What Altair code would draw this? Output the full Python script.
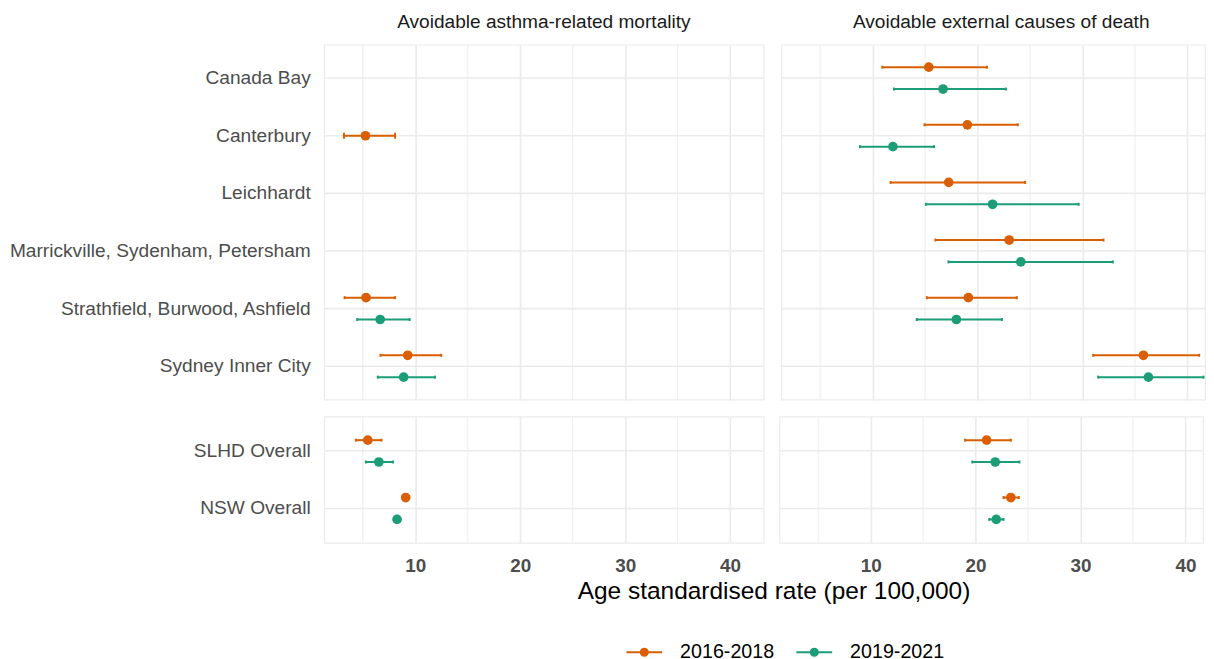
import altair as alt
import pandas as pd

# ---------------- data ----------------
lga_order = ["Canada Bay", "Canterbury", "Leichhardt",
             "Marrickville, Sydenham, Petersham",
             "Strathfield, Burwood, Ashfield", "Sydney Inner City"]
overall_order = ["SLHD Overall", "NSW Overall"]
causes = ["Avoidable asthma-related mortality", "Avoidable external causes of death"]
periods = ["2016-2018", "2019-2021"]

area = ["Canterbury", "Strathfield, Burwood, Ashfield", "Strathfield, Burwood, Ashfield",
        "Sydney Inner City", "Sydney Inner City", "SLHD Overall", "SLHD Overall",
        "NSW Overall", "NSW Overall",
        "Canada Bay", "Canada Bay", "Canterbury", "Canterbury", "Leichhardt", "Leichhardt",
        "Marrickville, Sydenham, Petersham", "Marrickville, Sydenham, Petersham",
        "Strathfield, Burwood, Ashfield", "Strathfield, Burwood, Ashfield",
        "Sydney Inner City", "Sydney Inner City", "SLHD Overall", "SLHD Overall",
        "NSW Overall", "NSW Overall"]
cause = [causes[0]] * 9 + [causes[1]] * 16
period = ["2016-2018", "2016-2018", "2019-2021", "2016-2018", "2019-2021",
          "2016-2018", "2019-2021", "2016-2018", "2019-2021"] + \
         ["2016-2018", "2019-2021"] * 8
rate = [5.25, 5.3, 6.65, 9.27, 8.89, 5.47, 6.52, 9.08, 8.26,
        15.35, 16.71, 19.02, 11.93, 17.25, 21.43, 23.01, 24.12,
        19.12, 17.98, 35.8, 36.28, 21.05, 21.87, 23.36, 21.97]
lower = [3.2, 3.26, 4.46, 6.68, 6.42, 4.33, 5.28, 8.85, 8.05,
         10.92, 12.03, 14.94, 8.79, 11.71, 15.07, 15.98, 17.22,
         15.16, 14.2, 31.02, 31.49, 19.0, 19.69, 22.66, 21.3]
upper = [8.07, 8.07, 9.46, 12.47, 11.87, 6.77, 7.88, 9.32, 8.48,
         20.89, 22.7, 23.83, 15.85, 24.53, 29.63, 32.0, 32.89,
         23.74, 22.32, 41.12, 41.53, 23.36, 24.18, 24.12, 22.66]
major_ticks = [10, 20, 30, 40]
minor_grid = [5, 15, 25, 35]

df = pd.DataFrame({"area": area, "cause": cause, "period": period,
                   "rate": rate, "lower": lower, "upper": upper})
counts = df.groupby(["cause", "area"])["period"].transform("count")
df["slot"] = ["m" if c == 1 else ("a" if p == periods[0] else "b")
              for c, p in zip(counts, df["period"])]
minor_df = pd.DataFrame({"v": minor_grid})

# ---------------- style ----------------
FONT = "Liberation Sans"
GRID = "#EBEBEB"
colors = ["#D95F02", "#1B9E77"]
# legend key: a line with a dot (dot built from concentric strokes)
LEG_PATH = ("M-1,0L1,0"
            "M-0.2,0A0.2,0.2,0,1,0,0.2,0A0.2,0.2,0,1,0,-0.2,0"
            "M-0.1,0A0.1,0.1,0,1,0,0.1,0A0.1,0.1,0,1,0,-0.1,0"
            "M-0.03,0A0.03,0.03,0,1,0,0.03,0A0.03,0.03,0,1,0,-0.03,0")

X0 = 1.31
PX_PER_UNIT = 10.554
LEFT_W = 442
RIGHT_W = 426

color_scale = alt.Scale(domain=periods, range=colors)
legend = alt.Legend(title=None, orient="none", direction="horizontal",
                    legendX=303, legendY=592,
                    symbolType=LEG_PATH, symbolSize=1296, symbolStrokeWidth=2,
                    symbolFillColor="transparent",
                    labelFont=FONT, labelFontSize=19.8, labelColor="#000000",
                    labelOffset=17, columnPadding=18)


def panel(sub, domain, height, po, width, show_x, show_y, title=None, xtitle=None):
    xmax = X0 + width / PX_PER_UNIT
    xscale = alt.Scale(domain=[X0, xmax], nice=False, zero=False)
    ax = dict(values=major_ticks, labels=show_x, ticks=False, domain=False,
              grid=True, gridColor=GRID, gridWidth=1.6,
              labelFont=FONT, labelFontSize=19, labelFontWeight="bold",
              labelColor="#4D4D4D", labelPadding=14)
    if xtitle:
        ax.update(title=xtitle, titleFont=FONT, titleFontSize=24.6,
                  titleFontWeight="normal", titleColor="#000000",
                  titleX=452, titleY=56, titleAlign="center",
                  titleBaseline="alphabetic", titleAnchor="middle")
    else:
        ax.update(title=None)
    xaxis = alt.Axis(**ax)
    yaxis = alt.Axis(labels=show_y, ticks=False, domain=False, grid=True,
                     gridColor=GRID, gridWidth=1.6, bandPosition=0.5, title=None,
                     labelFont=FONT, labelFontSize=19.25, labelColor="#4D4D4D",
                     labelPadding=14, labelLimit=500)
    yenc = alt.Y("area:N", scale=alt.Scale(domain=domain, paddingInner=0,
                                           paddingOuter=po), axis=yaxis)
    yoff = alt.YOffset("slot:N", scale=alt.Scale(domain=["s0", "a", "m", "b", "s1"],
                                                 paddingInner=0, paddingOuter=0.136))
    minor = alt.Chart(minor_df).mark_rule(color=GRID, strokeWidth=0.9).encode(
        x=alt.X("v:Q", scale=xscale, axis=xaxis))
    base = alt.Chart(sub)
    bars = base.mark_rule(strokeWidth=2, opacity=1).encode(
        x=alt.X("lower:Q", scale=xscale, axis=xaxis), x2="upper:Q",
        y=yenc, yOffset=yoff,
        stroke=alt.Stroke("period:N", scale=color_scale, legend=legend))
    caps_lo = base.mark_tick(orient="vertical", thickness=2, opacity=1).encode(
        x=alt.X("lower:Q", scale=xscale, axis=xaxis), y=yenc, yOffset=yoff,
        size=alt.condition(alt.datum.slot == "m", alt.value(6), alt.value(3)),
        fill=alt.Fill("period:N", scale=color_scale, legend=None))
    caps_hi = base.mark_tick(orient="vertical", thickness=2, opacity=1).encode(
        x=alt.X("upper:Q", scale=xscale, axis=xaxis), y=yenc, yOffset=yoff,
        size=alt.condition(alt.datum.slot == "m", alt.value(6), alt.value(3)),
        fill=alt.Fill("period:N", scale=color_scale, legend=None))
    pts = base.mark_circle(size=95, opacity=1).encode(
        x=alt.X("rate:Q", scale=xscale, axis=xaxis), y=yenc, yOffset=yoff,
        fill=alt.Fill("period:N", scale=color_scale, legend=None))
    props = dict(width=width, height=height)
    if title is not None:
        props["title"] = title
    return alt.layer(minor, bars, caps_lo, caps_hi, pts).properties(**props)


def strip(text, dx=0):
    return alt.TitleParams(text, fontSize=19.2, font=FONT, fontWeight="normal",
                           color="#1A1A1A", anchor="middle", offset=12, dx=dx)


d_a = df[df.cause == causes[0]]
d_e = df[df.cause == causes[1]]

tl = panel(d_a[d_a.area.isin(lga_order)], lga_order, 357, 0.08, LEFT_W, False, True,
           strip(causes[0]))
tr = panel(d_e[d_e.area.isin(lga_order)], lga_order, 357, 0.08, RIGHT_W, False, False,
           strip(causes[1], dx=8))
bl = panel(d_a[d_a.area.isin(overall_order)], overall_order, 127, 0.1, LEFT_W, True, True,
           xtitle="Age standardised rate (per 100,000)")
br = panel(d_e[d_e.area.isin(overall_order)], overall_order, 127, 0.1, RIGHT_W, True, False)

chart = alt.vconcat(
    alt.hconcat(tl, tr, spacing=16),
    alt.hconcat(bl, br, spacing=16, bounds="flush"),
    spacing=13,
).properties(
    padding={"left": 0, "top": 2, "right": 0, "bottom": 0},
    background="white",
).configure_view(stroke=GRID, strokeWidth=1.2)

chart.save("out.html", embed_options={"renderer": "svg", "actions": False})
